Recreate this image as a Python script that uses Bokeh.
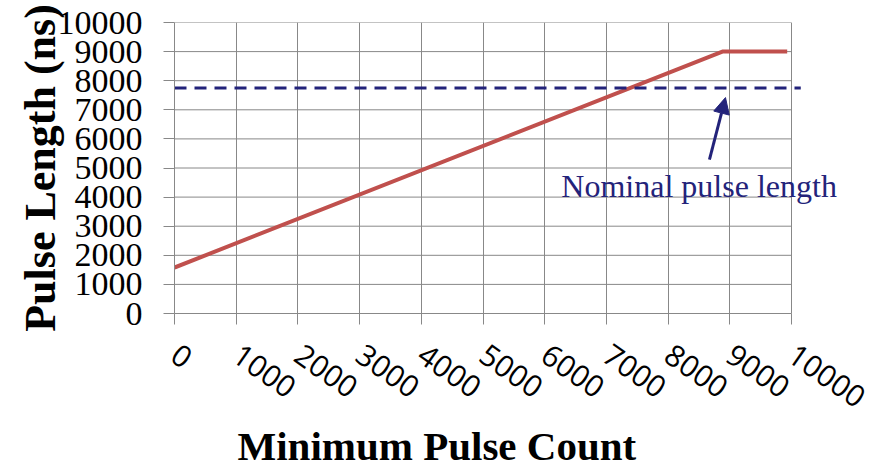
from bokeh.plotting import figure
from bokeh.models import Label, Arrow, NormalHead, FixedTicker, Title
from bokeh.embed import file_html
from bokeh.resources import INLINE

# data
pulse_count = [0, 8880, 9930]
pulse_length = [1580, 9000, 9000]
nominal_length = 7750
nominal_x = [0, 10150]
x_ticks = [0, 1000, 2000, 3000, 4000, 5000, 6000, 7000, 8000, 9000, 10000]
y_ticks = [0, 1000, 2000, 3000, 4000, 5000, 6000, 7000, 8000, 9000, 10000]
annotation_text = "Nominal pulse length"
arrow_tail = (8670, 5290)
arrow_tip = (8930, 7420)
text_pos = (6270, 4380)
x_label = "Minimum Pulse Count"
y_label = "Pulse Length (ns)"

GRID = "#888888"
NAVY = "#23237a"
RED = "#c0504d"

p = figure(width=877, height=469, output_backend="svg", toolbar_location=None,
           x_range=(0, 10875), y_range=(0, 10000),
           min_border_left=174, min_border_right=32, min_border_top=22, min_border_bottom=156)
p.background_fill_color = "white"
p.border_fill_color = "white"
p.outline_line_color = None

p.xaxis.ticker = FixedTicker(ticks=x_ticks)
p.yaxis.ticker = FixedTicker(ticks=y_ticks)
p.xgrid.ticker = FixedTicker(ticks=x_ticks)
p.ygrid.visible = False
p.xgrid.grid_line_color = GRID
p.xgrid.grid_line_alpha = 1

# horizontal grid lines limited to the data range
p.segment(x0=[x_ticks[0]] * len(y_ticks), x1=[x_ticks[-1]] * len(y_ticks),
          y0=y_ticks, y1=y_ticks, line_color=GRID, line_width=1)

for ax in (p.xaxis[0], p.yaxis[0]):
    ax.axis_line_color = GRID
    ax.major_tick_line_color = GRID
    ax.major_tick_out = 11
    ax.major_tick_in = 0
    ax.minor_tick_line_color = None
    ax.major_label_text_color = "black"

p.xaxis.bounds = (x_ticks[0], x_ticks[-1])

p.yaxis.major_label_text_font = "Liberation Serif"
p.yaxis.major_label_text_font_size = "34px"
p.yaxis.major_label_standoff = 21
p.yaxis.axis_label = y_label
p.yaxis.axis_label_text_font = "Liberation Serif"
p.yaxis.axis_label_text_font_style = "bold"
p.yaxis.axis_label_text_font_size = "44px"
p.yaxis.axis_label_text_color = "black"
p.yaxis.axis_label_standoff = -10

p.xaxis.major_label_text_font = "Open Sans"
p.xaxis.major_label_text_font_size = "30px"
p.xaxis.major_label_orientation = -0.61
p.xaxis.major_label_standoff = 27

p.add_layout(Title(text=x_label, text_font="Liberation Serif", text_font_style="bold",
                   text_font_size="41px", text_color="black", align="left", offset=63,
                   standoff=0), "below")

p.line(pulse_count, pulse_length, line_color=RED, line_width=4)

p.line(nominal_x, [nominal_length] * len(nominal_x), line_color=NAVY,
       line_width=3, line_dash="12 8")

p.add_layout(Arrow(x_start=arrow_tail[0], y_start=arrow_tail[1], x_end=arrow_tip[0], y_end=arrow_tip[1],
                   line_color=NAVY, line_width=3,
                   end=NormalHead(size=16, fill_color=NAVY, line_color=NAVY)))

p.add_layout(Label(x=text_pos[0], y=text_pos[1], text=annotation_text,
                   text_font="Liberation Serif", text_font_size="32px",
                   text_color=NAVY, text_baseline="alphabetic"))

open("out.html", "w").write(file_html(p, INLINE))
